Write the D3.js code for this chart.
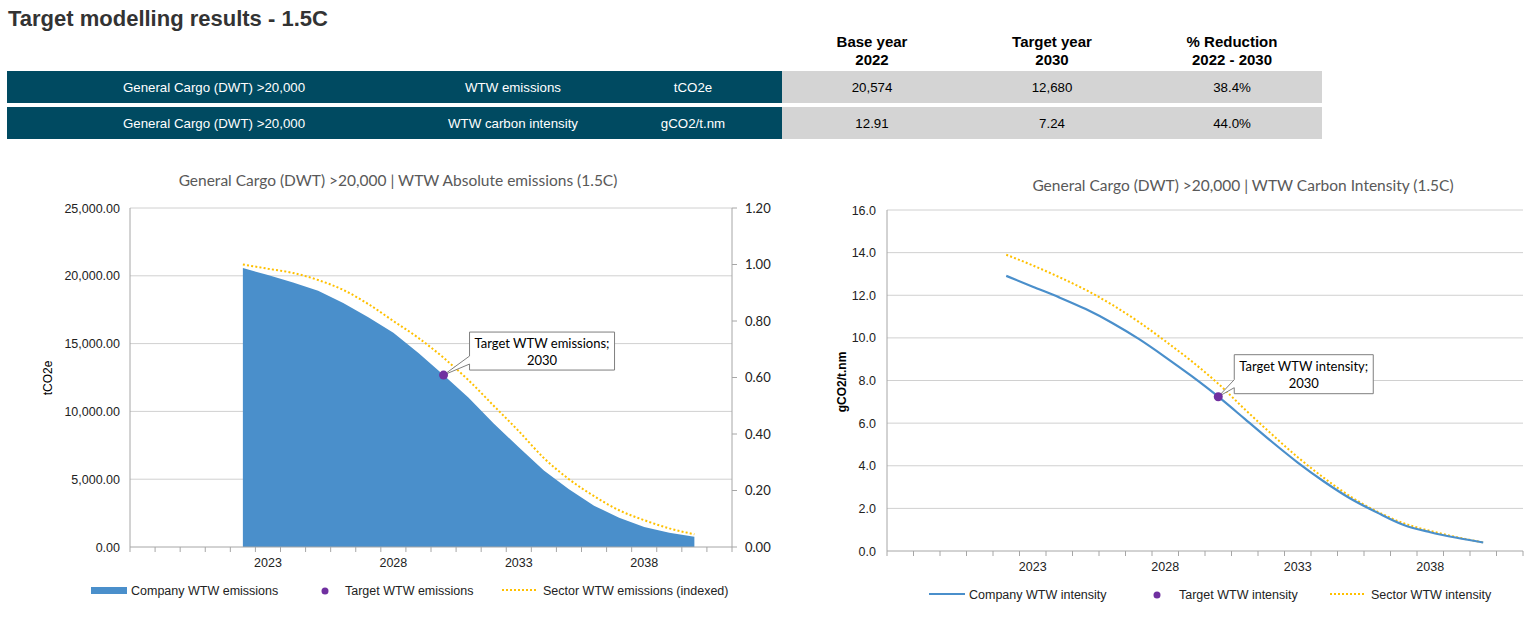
<!DOCTYPE html>
<html>
<head>
<meta charset="utf-8">
<script src="https://cdn.jsdelivr.net/npm/d3@7"></script>
<style>
  body { margin: 0; background: #fff; }
  svg { display: block; }
</style>
</head>
<body>
<svg id="chart" width="1538" height="617"></svg>
<script>
// categories on both x axes
const years = [2018, 2019, 2020, 2021, 2022, 2023, 2024, 2025, 2026, 2027, 2028, 2029,
  2030, 2031, 2032, 2033, 2034, 2035, 2036, 2037, 2038, 2039, 2040, 2041];
const xTickLabels = [2023, 2028, 2033, 2038];
const seriesYears = [2022, 2023, 2024, 2025, 2026, 2027, 2028, 2029, 2030, 2031,
  2032, 2033, 2034, 2035, 2036, 2037, 2038, 2039, 2040];

// absolute emissions (tCO2e) and sector index
const companyEmissions = [20574, 20050, 19500, 18900, 18000, 16950, 15800, 14300, 12680, 11000,
  9100, 7350, 5650, 4250, 3050, 2150, 1480, 1060, 760];
const sectorIndexed = [1.00, 0.985, 0.97, 0.945, 0.91, 0.86, 0.80, 0.74, 0.67, 0.59,
  0.50, 0.41, 0.315, 0.24, 0.18, 0.13, 0.095, 0.066, 0.045];

// carbon intensity (gCO2/t.nm)
const companyIntensity = [12.91, 12.4, 11.9, 11.35, 10.7, 9.95, 9.1, 8.2, 7.24, 6.2,
  5.15, 4.15, 3.25, 2.45, 1.8, 1.22, 0.88, 0.62, 0.40];
const sectorIntensity = [13.9, 13.4, 12.85, 12.25, 11.55, 10.75, 9.85, 8.9, 7.85, 6.65,
  5.5, 4.4, 3.42, 2.55, 1.85, 1.3, 0.94, 0.65, 0.40];

const targetYear = 2030;
const targetEmissions = 12680;
const targetIntensity = 7.24;

const leftTicks = [0, 5000, 10000, 15000, 20000, 25000];
const rightTicks = [0, 0.2, 0.4, 0.6, 0.8, 1.0, 1.2];
const intensityTicks = [0, 2, 4, 6, 8, 10, 12, 14, 16];

// summary table
const tableHeaders = [["Base year", "2022"], ["Target year", "2030"], ["% Reduction", "2022 - 2030"]];
const tableRows = [
  ["General Cargo (DWT) >20,000", "WTW emissions", "tCO2e", "20,574", "12,680", "38.4%"],
  ["General Cargo (DWT) >20,000", "WTW carbon intensity", "gCO2/t.nm", "12.91", "7.24", "44.0%"]
];

const ARIAL = "'Liberation Sans', Arial, sans-serif";
const CALIBRI = "Lato, 'Open Sans', sans-serif";
const blue = "#4a8fcb", gold = "#ffc000", purple = "#7030a0";
const gridCol = "#d0d0d0", axisCol = "#a6a6a6";

const svg = d3.select("#chart");

// ---- title and table
svg.append("text")
  .attr("x", 8).attr("y", 26)
  .attr("font-family", ARIAL).attr("font-size", 22).attr("font-weight", "bold")
  .attr("fill", "#333").text("Target modelling results - 1.5C");

const valueCols = [872, 1052, 1232];
const textCols = [214, 513, 693];
tableHeaders.forEach((h, i) => {
  h.forEach((line, j) => {
    svg.append("text")
      .attr("x", valueCols[i]).attr("y", 47 + j * 18)
      .attr("text-anchor", "middle")
      .attr("font-family", ARIAL).attr("font-size", 15).attr("font-weight", "bold")
      .attr("fill", "#000").text(line);
  });
});

const rowTop = [71, 107];
tableRows.forEach((row, r) => {
  svg.append("rect").attr("x", 7).attr("y", rowTop[r]).attr("width", 775).attr("height", 32).attr("fill", "#004a61");
  svg.append("rect").attr("x", 782).attr("y", rowTop[r]).attr("width", 540).attr("height", 32).attr("fill", "#d4d4d4");
  row.forEach((cell, c) => {
    const x = c < 3 ? textCols[c] : valueCols[c - 3];
    svg.append("text")
      .attr("x", x).attr("y", rowTop[r] + 21)
      .attr("text-anchor", "middle")
      .attr("font-family", ARIAL).attr("font-size", 13.3)
      .attr("fill", c < 3 ? "#fff" : "#000").text(cell);
  });
});

// ---- shared helpers
function xAxisBand(g, x, yBottom) {
  const edges = years.map(d => x(d)).concat([x.range()[1]]);
  g.append("line")
    .attr("x1", x.range()[0]).attr("x2", x.range()[1])
    .attr("y1", yBottom).attr("y2", yBottom)
    .attr("stroke", axisCol);
  g.selectAll(".xtick").data(edges).join("line")
    .attr("x1", d => d).attr("x2", d => d)
    .attr("y1", yBottom).attr("y2", yBottom + 5)
    .attr("stroke", axisCol);
  g.selectAll(".xlab").data(xTickLabels).join("text")
    .attr("x", d => x(d) + x.bandwidth() / 2)
    .attr("y", yBottom + 20)
    .attr("text-anchor", "middle")
    .attr("font-family", ARIAL).attr("font-size", 12.5).attr("fill", "#222")
    .text(d => d);
}

function callout(g, px, py, dx, dy, w, h, lines) {
  const bx = px + dx, by = py + dy;
  const path = `M${bx},${by} H${bx + w} V${by + h} H${bx} V${by + h - 6} L${px},${py} L${bx},${by + h - 14} Z`;
  g.append("path").attr("d", path).attr("fill", "#fff").attr("stroke", "#7f7f7f").attr("stroke-width", 1);
  lines.forEach((t, i) => {
    g.append("text")
      .attr("x", bx + w / 2).attr("y", by + 16 + i * 17)
      .attr("text-anchor", "middle")
      .attr("font-family", CALIBRI).attr("font-size", 13).attr("fill", "#000")
      .text(t);
  });
}

function legend(g, items, y) {
  items.forEach(it => {
    if (it.type === "area") {
      g.append("rect").attr("x", it.x).attr("y", y - 3).attr("width", 36).attr("height", 7).attr("fill", blue);
    } else if (it.type === "line") {
      g.append("line").attr("x1", it.x).attr("x2", it.x + 36).attr("y1", y).attr("y2", y)
        .attr("stroke", blue).attr("stroke-width", 2);
    } else if (it.type === "dot") {
      g.append("circle").attr("cx", it.x).attr("cy", y + 1).attr("r", 3.5).attr("fill", purple);
    } else {
      g.append("line").attr("x1", it.x).attr("x2", it.x + 36).attr("y1", y).attr("y2", y)
        .attr("stroke", gold).attr("stroke-width", 2).attr("stroke-dasharray", "2 2");
    }
    g.append("text").attr("x", it.tx).attr("y", y + 5)
      .attr("font-family", ARIAL).attr("font-size", 12.5).attr("fill", "#222")
      .text(it.label);
  });
}

// ---- left chart: absolute emissions
{
  const g = svg.append("g");
  const x = d3.scaleBand().domain(years).range([130, 732]).padding(0);
  const cx = d => x(d) + x.bandwidth() / 2;
  const y = d3.scaleLinear().domain([0, 25000]).range([547, 208]);
  const y2 = d3.scaleLinear().domain([0, 1.2]).range([547, 208]);

  svg.append("text")
    .attr("x", 398).attr("y", 186).attr("text-anchor", "middle")
    .attr("font-family", CALIBRI).attr("font-size", 15.5).attr("fill", "#595959")
    .text("General Cargo (DWT) >20,000 | WTW Absolute emissions (1.5C)");

  g.selectAll(".grid").data(leftTicks.slice(1)).join("line")
    .attr("x1", 130).attr("x2", 732)
    .attr("y1", d => y(d)).attr("y2", d => y(d))
    .attr("stroke", gridCol);

  const data = seriesYears.map((yr, i) => ({ yr, v: companyEmissions[i], s: sectorIndexed[i] }));

  g.append("path").datum(data)
    .attr("d", d3.area().x(d => cx(d.yr)).y0(y(0)).y1(d => y(d.v)))
    .attr("fill", blue);

  g.append("path").datum(data)
    .attr("d", d3.line().x(d => cx(d.yr)).y(d => y2(d.s)).curve(d3.curveMonotoneX))
    .attr("fill", "none").attr("stroke", gold).attr("stroke-width", 2).attr("stroke-dasharray", "2 2.2");

  // axes
  g.append("line").attr("x1", 130).attr("x2", 130).attr("y1", 208).attr("y2", 547).attr("stroke", axisCol);
  g.append("line").attr("x1", 732).attr("x2", 732).attr("y1", 208).attr("y2", 547).attr("stroke", axisCol);
  xAxisBand(g, x, 547);

  g.selectAll(".ylab").data(leftTicks).join("text")
    .attr("x", 120).attr("y", d => y(d) + 4.5).attr("text-anchor", "end")
    .attr("font-family", ARIAL).attr("font-size", 12.5).attr("fill", "#222")
    .text(d => d3.format(",.2f")(d));

  g.selectAll(".rtick").data(rightTicks).join("line")
    .attr("x1", 732).attr("x2", 737).attr("y1", d => y2(d)).attr("y2", d => y2(d))
    .attr("stroke", axisCol);
  g.selectAll(".rlab").data(rightTicks).join("text")
    .attr("x", 745).attr("y", d => y2(d) + 4.5)
    .attr("font-family", CALIBRI).attr("font-size", 13).attr("fill", "#222")
    .text(d => d.toFixed(2));

  g.append("text")
    .attr("transform", "translate(52,378) rotate(-90)")
    .attr("text-anchor", "middle")
    .attr("font-family", ARIAL).attr("font-size", 12).attr("fill", "#000")
    .text("tCO2e");

  const tx = cx(targetYear), ty = y(targetEmissions);
  callout(g, tx, ty, 26, -43, 145, 38, ["Target WTW emissions;", "2030"]);
  g.append("circle").attr("cx", tx).attr("cy", ty).attr("r", 4.5).attr("fill", purple);

  legend(g, [
    { type: "area", x: 91, tx: 131, label: "Company WTW emissions" },
    { type: "dot", x: 325, tx: 345, label: "Target WTW emissions" },
    { type: "dots", x: 502, tx: 543, label: "Sector WTW emissions (indexed)" }
  ], 590);
}

// ---- right chart: carbon intensity
{
  const g = svg.append("g");
  const x = d3.scaleBand().domain(years).range([887, 1523]).padding(0);
  const cx = d => x(d) + x.bandwidth() / 2;
  const y = d3.scaleLinear().domain([0, 16]).range([551, 210]);

  svg.append("text")
    .attr("x", 1243).attr("y", 191).attr("text-anchor", "middle")
    .attr("font-family", CALIBRI).attr("font-size", 15.5).attr("fill", "#595959")
    .text("General Cargo (DWT) >20,000 | WTW Carbon Intensity (1.5C)");

  g.selectAll(".grid").data(intensityTicks.slice(1)).join("line")
    .attr("x1", 887).attr("x2", 1523)
    .attr("y1", d => y(d)).attr("y2", d => y(d))
    .attr("stroke", gridCol);

  const data = seriesYears.map((yr, i) => ({ yr, c: companyIntensity[i], s: sectorIntensity[i] }));

  g.append("path").datum(data)
    .attr("d", d3.line().x(d => cx(d.yr)).y(d => y(d.s)).curve(d3.curveMonotoneX))
    .attr("fill", "none").attr("stroke", gold).attr("stroke-width", 2).attr("stroke-dasharray", "2 2.2");

  g.append("path").datum(data)
    .attr("d", d3.line().x(d => cx(d.yr)).y(d => y(d.c)).curve(d3.curveMonotoneX))
    .attr("fill", "none").attr("stroke", blue).attr("stroke-width", 2.2);

  g.append("line").attr("x1", 887).attr("x2", 887).attr("y1", 210).attr("y2", 551).attr("stroke", axisCol);
  xAxisBand(g, x, 551);

  g.selectAll(".ylab").data(intensityTicks).join("text")
    .attr("x", 876).attr("y", d => y(d) + 4.5).attr("text-anchor", "end")
    .attr("font-family", ARIAL).attr("font-size", 12.5).attr("fill", "#222")
    .text(d => d.toFixed(1));

  g.append("text")
    .attr("transform", "translate(846,382) rotate(-90)")
    .attr("text-anchor", "middle")
    .attr("font-family", ARIAL).attr("font-size", 12).attr("font-weight", "bold").attr("fill", "#000")
    .text("gCO2/t.nm");

  const tx = cx(targetYear), ty = y(targetIntensity);
  callout(g, tx, ty, 16, -42, 139, 39, ["Target WTW intensity;", "2030"]);
  g.append("circle").attr("cx", tx).attr("cy", ty).attr("r", 4.5).attr("fill", purple);

  legend(g, [
    { type: "line", x: 929, tx: 969, label: "Company WTW intensity" },
    { type: "dot", x: 1157, tx: 1179, label: "Target WTW intensity" },
    { type: "dots", x: 1330, tx: 1371, label: "Sector WTW intensity" }
  ], 594);
}
</script>
</body>
</html>
